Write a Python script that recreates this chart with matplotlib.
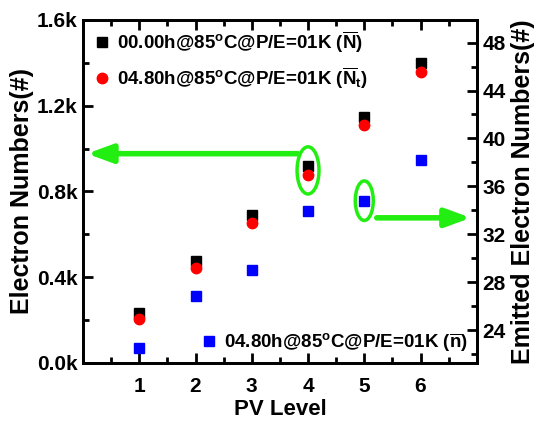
import matplotlib
matplotlib.use("Agg")
import matplotlib.pyplot as plt
from matplotlib.patches import Ellipse
from matplotlib.ticker import MultipleLocator, FuncFormatter

pv_level = [1, 2, 3, 4, 5, 6]
n_bar = [233, 476, 690, 919, 1147, 1399]      # 00.00h, left axis
nt_bar = [205, 443, 653, 877, 1110, 1357]     # 04.80h, left axis
n_emit = [22.5, 26.8, 29.0, 33.95, 34.8, 38.2]  # emitted, right axis

plt.rcParams['font.family'] = ['Liberation Sans', 'DejaVu Sans']
plt.rcParams['font.weight'] = 'bold'
plt.rcParams['mathtext.fontset'] = 'custom'
plt.rcParams['mathtext.rm'] = 'Liberation Sans:bold'
plt.rcParams['mathtext.bf'] = 'Liberation Sans:bold'
plt.rcParams['mathtext.it'] = 'Liberation Sans:bold'

fig = plt.figure(figsize=(5.43, 4.23), dpi=100)
ax = fig.add_axes([0.153, 0.142, 0.725, 0.811])
ax2 = ax.twinx()

h1, = ax.plot(pv_level, n_bar, 's', color='black', ms=6.5,
              label=r'00.00h@85$^\mathbf{o}$C@P/E=01K ($\overline{\mathbf{N}}$)')
h2, = ax.plot(pv_level, nt_bar, 'o', color='red', ms=7.5,
              label=r'04.80h@85$^\mathbf{o}$C@P/E=01K ($\overline{\mathbf{N}}_\mathbf{t}$)')
h3, = ax2.plot(pv_level, n_emit, 's', color='blue', ms=6.5,
               label=r'04.80h@85$^\mathbf{o}$C@P/E=01K ($\overline{\mathbf{n}}$)')

ax.set_xlim(0, 7)
ax.set_ylim(0, 1600)
ax2.set_ylim(21.25, 49.9)

ax.xaxis.set_minor_locator(MultipleLocator(0.5))
ax.set_xticks(pv_level)
ax.yaxis.set_major_locator(MultipleLocator(400))
ax.yaxis.set_minor_locator(MultipleLocator(200))
ax.yaxis.set_major_formatter(FuncFormatter(lambda v, p: '%.1fk' % (v / 1000)))
ax2.yaxis.set_minor_locator(MultipleLocator(2))
ax2.set_yticks([24, 28, 32, 36, 40, 44, 48])

ax.tick_params(which='both', direction='in', top=True, right=False, width=2,
               labelsize=15, pad=4)
ax.tick_params(axis='x', which='both', pad=10)
ax.tick_params(which='major', length=7)
ax.tick_params(which='minor', length=4)
ax2.tick_params(which='both', direction='in', width=2, labelsize=15, pad=4)
ax2.tick_params(which='major', length=7)
ax2.tick_params(which='minor', length=4)
for a in (ax, ax2):
    for s in a.spines.values():
        s.set_linewidth(2)

ax.set_xlabel('PV Level', fontsize=16, fontweight='bold', labelpad=2)
ax.set_ylabel('Electron Numbers(#)', fontsize=18, fontweight='bold', labelpad=2)
ax2.set_ylabel('Emitted Electron Numbers(#)', fontsize=18, fontweight='bold', labelpad=4)

leg1 = ax2.legend(handles=[h1, h2], loc='upper left', frameon=False, fontsize=13.5,
                  handletextpad=0.3, handlelength=1.0, borderaxespad=0.2,
                  labelspacing=0.55, borderpad=0.3)
ax2.add_artist(leg1)
ax2.legend(handles=[h3], loc='lower right', frameon=False, fontsize=13.5,
           handletextpad=0.3, handlelength=1.0, borderaxespad=0.2, borderpad=0.3)

# green highlight ellipses and arrows
green = '#22ee11'
ax.add_patch(Ellipse((pv_level[3], (n_bar[3] + nt_bar[3]) / 2), 0.39, 220,
                     fill=False, ec=green, lw=2.5, zorder=5))
ax2.add_patch(Ellipse((pv_level[4], n_emit[4]), 0.32, 3.3,
                      fill=False, ec=green, lw=2.5, zorder=5))
ax.annotate('', xy=(0.01, 0.61), xytext=(0.545, 0.61), xycoords='axes fraction',
            arrowprops=dict(arrowstyle='-|>,head_length=1.5,head_width=0.55',
                            color=green, lw=4, shrinkA=0, shrinkB=0))
ax.annotate('', xy=(0.985, 0.423), xytext=(0.746, 0.423), xycoords='axes fraction',
            arrowprops=dict(arrowstyle='-|>,head_length=1.5,head_width=0.55',
                            color=green, lw=4, shrinkA=0, shrinkB=0))

plt.savefig('out.png', dpi=100)
